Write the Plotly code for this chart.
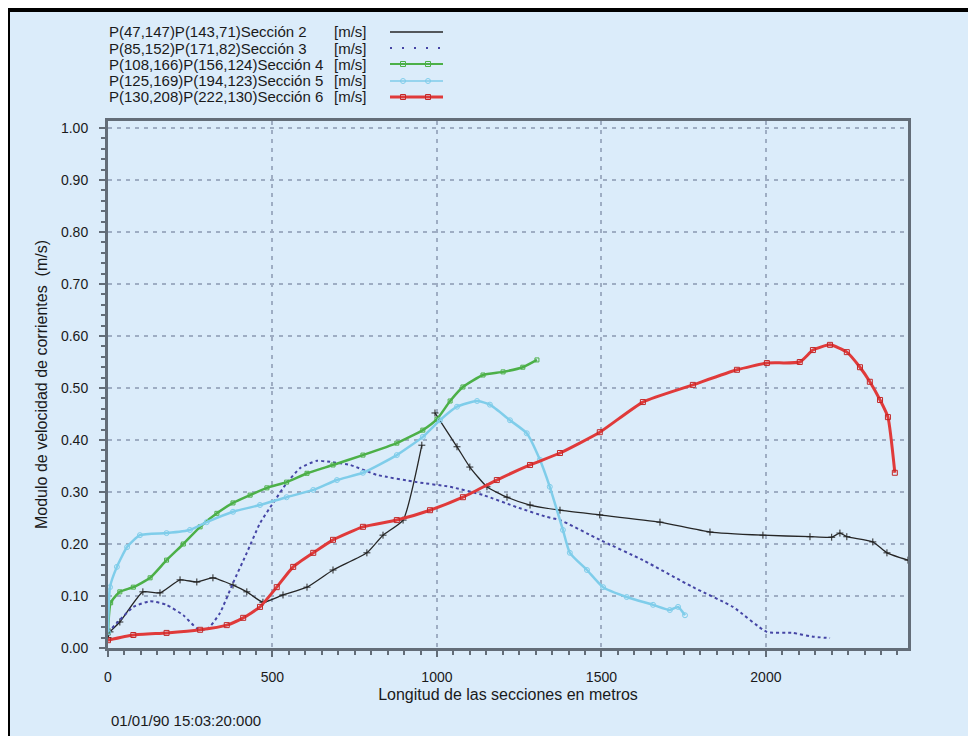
import plotly.graph_objects as go

# Longitud (m) y velocidad (m/s) por sección
sec2_x = [0, 6, 36, 106, 158, 219, 270, 319, 380, 422, 471, 532, 605, 684, 787, 836, 897, 954,
          None, 994, 1061, 1100, 1152, 1213, 1283, 1374, 1495, 1678, 1830, 1991, 2134, 2200,
          2225, 2246, 2325, 2368, 2432]
sec2_y = [0.02, 0.031, 0.05, 0.108, 0.106, 0.131, 0.127, 0.135, 0.121, 0.108, 0.088, 0.102,
          0.117, 0.15, 0.183, 0.217, 0.246, 0.39,
          None, 0.452, 0.387, 0.348, 0.31, 0.29, 0.275, 0.265, 0.256, 0.242, 0.223, 0.217,
          0.214, 0.213, 0.221, 0.214, 0.204, 0.183, 0.169]

sec3_x = [0, 36, 77, 128, 178, 229, 270, 300, 340, 380, 422, 462, 502, 543, 584, 635, 675,
          736, 817, 939, 1040, 1141, 1242, 1334, 1374, 1495, 1626, 1778, 1900, 2003, 2082,
          2140, 2195]
sec3_y = [0.03, 0.054, 0.079, 0.09, 0.083, 0.063, 0.038, 0.035, 0.067, 0.125, 0.183, 0.24,
          0.279, 0.317, 0.346, 0.36, 0.358, 0.352, 0.333, 0.319, 0.31, 0.294, 0.271, 0.252,
          0.246, 0.208, 0.169, 0.117, 0.079, 0.031, 0.029, 0.022, 0.019]

sec4_x = [0, 8, 36, 77, 128, 178, 229, 280, 331, 380, 432, 483, 543, 605, 684, 775, 878, 957,
          1000, 1040, 1079, 1140, 1201, 1261, 1304]
sec4_y = [0.03, 0.087, 0.108, 0.117, 0.135, 0.169, 0.2, 0.233, 0.259, 0.279, 0.294, 0.308,
          0.319, 0.336, 0.352, 0.371, 0.394, 0.419, 0.44, 0.475, 0.502, 0.525, 0.531, 0.54,
          0.554]

sec5_x = [0, 6, 27, 58, 97, 178, 249, 300, 380, 462, 543, 624, 696, 775, 878, 957, 1009,
          1061, 1122, 1161, 1222, 1273, 1313, 1343, 1383, 1404, 1456, 1505, 1577, 1657, 1708,
          1733, 1754]
sec5_y = [0.03, 0.117, 0.156, 0.194, 0.217, 0.221, 0.227, 0.242, 0.262, 0.275, 0.29, 0.304,
          0.323, 0.337, 0.371, 0.406, 0.438, 0.464, 0.475, 0.468, 0.438, 0.413, 0.362, 0.31,
          0.227, 0.183, 0.15, 0.117, 0.098, 0.083, 0.073, 0.079, 0.063]

sec6_x = [0, 77, 178, 280, 361, 411, 462, 513, 563, 624, 684, 775, 878, 979, 1079, 1182, 1283,
          1374, 1495, 1626, 1778, 1912, 2003, 2103, 2143, 2195, 2246, 2286, 2316, 2347, 2371,
          2392]
sec6_y = [0.015, 0.025, 0.029, 0.035, 0.044, 0.058, 0.079, 0.117, 0.156, 0.183, 0.208, 0.233,
          0.246, 0.265, 0.29, 0.323, 0.352, 0.375, 0.415, 0.473, 0.506, 0.535, 0.548, 0.55,
          0.573, 0.583, 0.569, 0.54, 0.512, 0.477, 0.444, 0.337]

labels = ['P(47,147)P(143,71)Sección 2', 'P(85,152)P(171,82)Sección 3',
          'P(108,166)P(156,124)Sección 4', 'P(125,169)P(194,123)Sección 5',
          'P(130,208)P(222,130)Sección 6']
unit = '[m/s]'
y_ticks = [0.0, 0.1, 0.2, 0.3, 0.4, 0.5, 0.6, 0.7, 0.8, 0.9, 1.0]
y_ticktext = ['%.2f' % v for v in y_ticks]
fecha = '01/01/90 15:03:20:000'

BG = '#dbecfa'
AXIS = '#636d78'
GRID = '#9eadc3'
FONT = 'Liberation Sans, Arial, sans-serif'
colors = ['#262626', '#4545a5', '#4cb048', '#7fcdea', '#e03a3a']

# la página deja 8 px de margen blanco arriba y a la izquierda
OFF = 8
W, H = 976 - OFF, 736 - OFF
L, R, T, B = 100, 68, 113, 88
PW, PH = W - L - R, H - T - B


def px2x(px):
    return (px - OFF - L) / PW


def py2y(py):
    return (H - B - (py - OFF)) / PH


fig = go.Figure()
fig.add_trace(go.Scatter(x=sec2_x, y=sec2_y, mode='lines+markers', connectgaps=False,
                         line=dict(color=colors[0], width=1.3, shape='spline', smoothing=0.5),
                         marker=dict(symbol='cross-thin', size=5, line=dict(color=colors[0], width=1))))
fig.add_trace(go.Scatter(x=sec3_x, y=sec3_y, mode='lines',
                         line=dict(color=colors[1], width=2, dash='3px,3px', shape='spline', smoothing=0.5)))
fig.add_trace(go.Scatter(x=sec4_x, y=sec4_y, mode='lines+markers',
                         line=dict(color=colors[2], width=2.5, shape='spline', smoothing=0.5),
                         marker=dict(symbol='square-open', size=4, color=colors[2])))
fig.add_trace(go.Scatter(x=sec5_x, y=sec5_y, mode='lines+markers',
                         line=dict(color=colors[3], width=2.5, shape='spline', smoothing=0.5),
                         marker=dict(symbol='circle-open', size=5, color=colors[3])))
fig.add_trace(go.Scatter(x=sec6_x, y=sec6_y, mode='lines+markers',
                         line=dict(color=colors[4], width=3, shape='spline', smoothing=0.5),
                         marker=dict(symbol='square-open', size=5, color='#c22828')))

# leyenda a mano: texto a la izquierda, muestra de línea a la derecha
rows = [32, 48, 64, 81, 97]
anns = []
shapes = []
for i, (lab, yy) in enumerate(zip(labels, rows)):
    anns.append(dict(x=px2x(107), y=py2y(yy), xref='paper', yref='paper', text=lab,
                     showarrow=False, xanchor='left', yanchor='middle',
                     font=dict(family=FONT, size=15, color='#1a1a1a')))
    anns.append(dict(x=px2x(332), y=py2y(yy), xref='paper', yref='paper', text=unit,
                     showarrow=False, xanchor='left', yanchor='middle',
                     font=dict(family=FONT, size=15, color='#1a1a1a')))
    dash = '2px,10px' if i == 1 else 'solid'
    shapes.append(dict(type='line', xref='paper', yref='paper', x0=px2x(390), x1=px2x(443),
                       y0=py2y(yy), y1=py2y(yy),
                       line=dict(color=colors[i], width=[1.3, 2, 2, 1.5, 3][i], dash=dash)))
    for mx in (403, 428):
        if i in (2, 3, 4):
            shapes.append(dict(type='rect' if i != 3 else 'circle', xref='paper', yref='paper',
                               x0=px2x(mx - 2.5), x1=px2x(mx + 2.5),
                               y0=py2y(yy + 2.5), y1=py2y(yy - 2.5),
                               line=dict(color=colors[i] if i != 4 else '#c22828', width=1)))

anns.append(dict(x=px2x(109), y=py2y(720), xref='paper', yref='paper', text=fecha,
                 showarrow=False, xanchor='left', yanchor='middle',
                 font=dict(family=FONT, size=15, color='#1a1a1a')))

# marco negro de la página
shapes.append(dict(type='line', xref='paper', yref='paper', x0=px2x(OFF), x1=px2x(976),
                   y0=py2y(OFF + 2), y1=py2y(OFF + 2), line=dict(color='black', width=4)))
shapes.append(dict(type='line', xref='paper', yref='paper', x0=px2x(OFF + 1), x1=px2x(OFF + 1),
                   y0=py2y(OFF), y1=py2y(736), line=dict(color='black', width=2)))

fig.update_layout(
    width=W, height=H,
    margin=dict(l=L, r=R, t=T, b=B),
    paper_bgcolor=BG, plot_bgcolor=BG,
    showlegend=False,
    annotations=anns, shapes=shapes,
    font=dict(family=FONT, size=14, color='#1a1a1a'),
    xaxis=dict(range=[0, 2432], tickvals=[0, 500, 1000, 1500, 2000],
               showline=True, mirror=True, linecolor=AXIS, linewidth=3,
               ticks='outside', ticklen=6, tickwidth=2, tickcolor=AXIS,
               minor=dict(dtick=50, ticks='outside', ticklen=4, tickcolor=AXIS, tickwidth=1.5),
               showgrid=True, gridcolor=GRID, griddash='4px,5px', gridwidth=1.5, zeroline=False,
               ticklabelstandoff=8,
               title=dict(text='Longitud de las secciones en metros', standoff=6,
                          font=dict(family=FONT, size=16))),
    yaxis=dict(range=[0, 1.0135], tickvals=y_ticks, ticktext=y_ticktext,
               showline=True, mirror=True, linecolor=AXIS, linewidth=3,
               ticks='outside', ticklen=6, tickwidth=2, tickcolor=AXIS,
               minor=dict(dtick=0.02, ticks='outside', ticklen=4, tickcolor=AXIS, tickwidth=1.5),
               showgrid=True, gridcolor=GRID, griddash='4px,5px', gridwidth=1.5, zeroline=False,
               ticklabelstandoff=8,
               title=dict(text='Modulo de velocidad de corrientes  (m/s)', standoff=10,
                          font=dict(family=FONT, size=16))),
)

fig.write_html("out.html")
